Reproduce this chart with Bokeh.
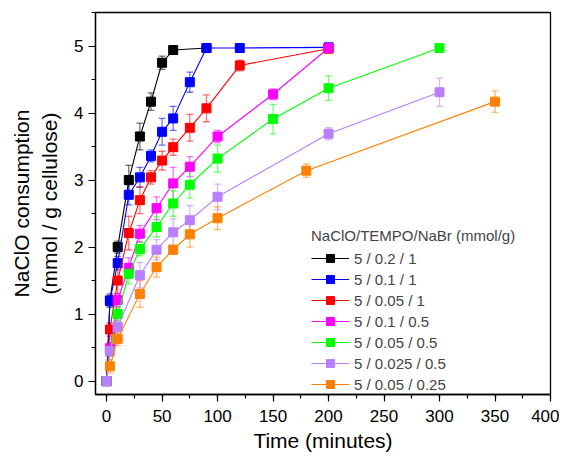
from bokeh.plotting import figure
from bokeh.models import (ColumnDataSource, Whisker, TeeHead, SingleIntervalTicker,
                          Legend, LegendItem)
from bokeh.embed import file_html
from bokeh.resources import INLINE

# ---- data ----
labels = ["5 / 0.2 / 1", "5 / 0.1 / 1", "5 / 0.05 / 1", "5 / 0.1 / 0.5",
          "5 / 0.05 / 0.5", "5 / 0.025 / 0.5", "5 / 0.05 / 0.25"]
colors = ["#000000", "#0000FF", "#FF0000", "#FF00FF", "#00FF00", "#B87FFF", "#FF8000"]

t_black = [0, 3, 10, 20, 30, 40, 50, 60, 90]
y_black = [0, 1.2, 2.0, 3.0, 3.65, 4.17, 4.75, 4.94, 4.97]
e_black = [0, 0.08, 0.09, 0.22, 0.2, 0.13, 0.1, 0.05, 0.02]

t_blue = [0, 3, 10, 20, 30, 40, 50, 60, 75, 90, 120, 200]
y_blue = [0, 1.2, 1.76, 2.78, 3.04, 3.36, 3.72, 3.92, 4.46, 4.97, 4.97, 4.98]
e_blue = [0, 0.1, 0.1, 0.15, 0.15, 0.09, 0.2, 0.18, 0.15, 0.03, 0.02, 0.02]

t_red = [0, 3, 10, 20, 30, 40, 50, 60, 75, 90, 120, 200]
y_red = [0, 0.77, 1.5, 2.21, 2.7, 3.04, 3.29, 3.49, 3.78, 4.07, 4.71, 4.96]
e_red = [0, 0.1, 0.2, 0.25, 0.2, 0.1, 0.14, 0.12, 0.2, 0.2, 0.08, 0.03]

t_magenta = [0, 3, 10, 20, 30, 45, 60, 75, 100, 150, 200]
y_magenta = [0, 0.49, 1.21, 1.69, 2.2, 2.58, 2.95, 3.2, 3.65, 4.28, 4.97]
e_magenta = [0, 0.08, 0.1, 0.15, 0.12, 0.17, 0.24, 0.15, 0.09, 0.08, 0.03]

t_green = [0, 3, 10, 20, 30, 45, 60, 75, 100, 150, 200, 300]
y_green = [0, 0.45, 1.0, 1.6, 1.97, 2.30, 2.65, 2.93, 3.32, 3.91, 4.37, 4.97]
e_green = [0, 0.08, 0.1, 0.15, 0.1, 0.15, 0.19, 0.2, 0.2, 0.22, 0.18, 0.02]

t_lavender = [0, 3, 10, 30, 45, 60, 75, 100, 200, 300]
y_lavender = [0, 0.45, 0.81, 1.58, 1.96, 2.22, 2.4, 2.75, 3.69, 4.31]
e_lavender = [0, 0.08, 0.1, 0.19, 0.15, 0.2, 0.22, 0.19, 0.09, 0.21]

t_orange = [3, 10, 30, 45, 60, 75, 100, 180, 350]
y_orange = [0.22, 0.63, 1.3, 1.70, 1.96, 2.19, 2.43, 3.14, 4.17]
e_orange = [0.1, 0.1, 0.2, 0.15, 0.07, 0.19, 0.17, 0.1, 0.16]

series = [(t_black, y_black, e_black), (t_blue, y_blue, e_blue), (t_red, y_red, e_red),
          (t_magenta, y_magenta, e_magenta), (t_green, y_green, e_green),
          (t_lavender, y_lavender, e_lavender), (t_orange, y_orange, e_orange)]

FONT = "Liberation Sans"

p = figure(width=559, height=459, x_range=(-10, 400), y_range=(-0.2, 5.5),
           output_backend="svg", toolbar_location=None,
           min_border_left=95, min_border_right=9, min_border_top=12, min_border_bottom=65)
p.grid.visible = False
p.outline_line_color = "black"
p.outline_line_width = 1.3
p.background_fill_color = "white"
p.border_fill_color = "white"

p.xaxis.ticker = SingleIntervalTicker(interval=50, num_minor_ticks=2)
p.yaxis.ticker = SingleIntervalTicker(interval=1, num_minor_ticks=2)
for ax in (p.xaxis[0], p.yaxis[0]):
    ax.major_tick_in = 0
    ax.major_tick_out = 7
    ax.minor_tick_in = 0
    ax.minor_tick_out = 4
    ax.axis_line_width = 1.3
    ax.major_tick_line_width = 1.2
    ax.minor_tick_line_width = 1.2
    ax.major_label_text_font = FONT
    ax.major_label_text_font_size = "17px"
    ax.major_label_text_color = "black"
    ax.axis_label_text_font = FONT
    ax.axis_label_text_font_size = "21px"
    ax.axis_label_text_font_style = "normal"
    ax.axis_label_text_color = "black"
p.xaxis.axis_label = "Time (minutes)"
p.yaxis.axis_label = "NaClO consumption\n(mmol / g cellulose)"
p.xaxis.major_label_standoff = 8
p.yaxis.major_label_standoff = 5
p.xaxis.axis_label_standoff = 4
p.yaxis.axis_label_standoff = 10

items = []
for (t, y, e), col, lab in zip(series, colors, labels):
    src = ColumnDataSource(dict(t=t, y=y,
                                lo=[a - b for a, b in zip(y, e)],
                                hi=[a + b for a, b in zip(y, e)]))
    w = Whisker(source=src, base="t", lower="lo", upper="hi",
                line_color=col, line_alpha=0.55, line_width=1.3,
                upper_head=TeeHead(size=7, line_color=col, line_alpha=0.55, line_width=1.3),
                lower_head=TeeHead(size=7, line_color=col, line_alpha=0.55, line_width=1.3))
    p.add_layout(w)
    r1 = p.line("t", "y", source=src, line_color=col, line_width=1.1)
    r2 = p.scatter("t", "y", source=src, marker="square", size=9,
                   fill_color=col, line_color=col)
    items.append(LegendItem(label=lab, renderers=[r1, r2]))

leg = Legend(items=items, location=(216, 0), title="NaClO/TEMPO/NaBr (mmol/g)")
leg.title_text_font = FONT
leg.title_text_font_size = "15px"
leg.title_text_font_style = "normal"
leg.title_standoff = 4
leg.label_text_font = FONT
leg.label_text_font_size = "15px"
leg.glyph_width = 38
leg.glyph_height = 20
leg.label_height = 20
leg.spacing = 1
leg.label_standoff = 5
leg.padding = 2
leg.margin = 0
leg.border_line_color = None
leg.background_fill_alpha = 0
p.add_layout(leg)

open("out.html", "w").write(file_html(p, INLINE))
